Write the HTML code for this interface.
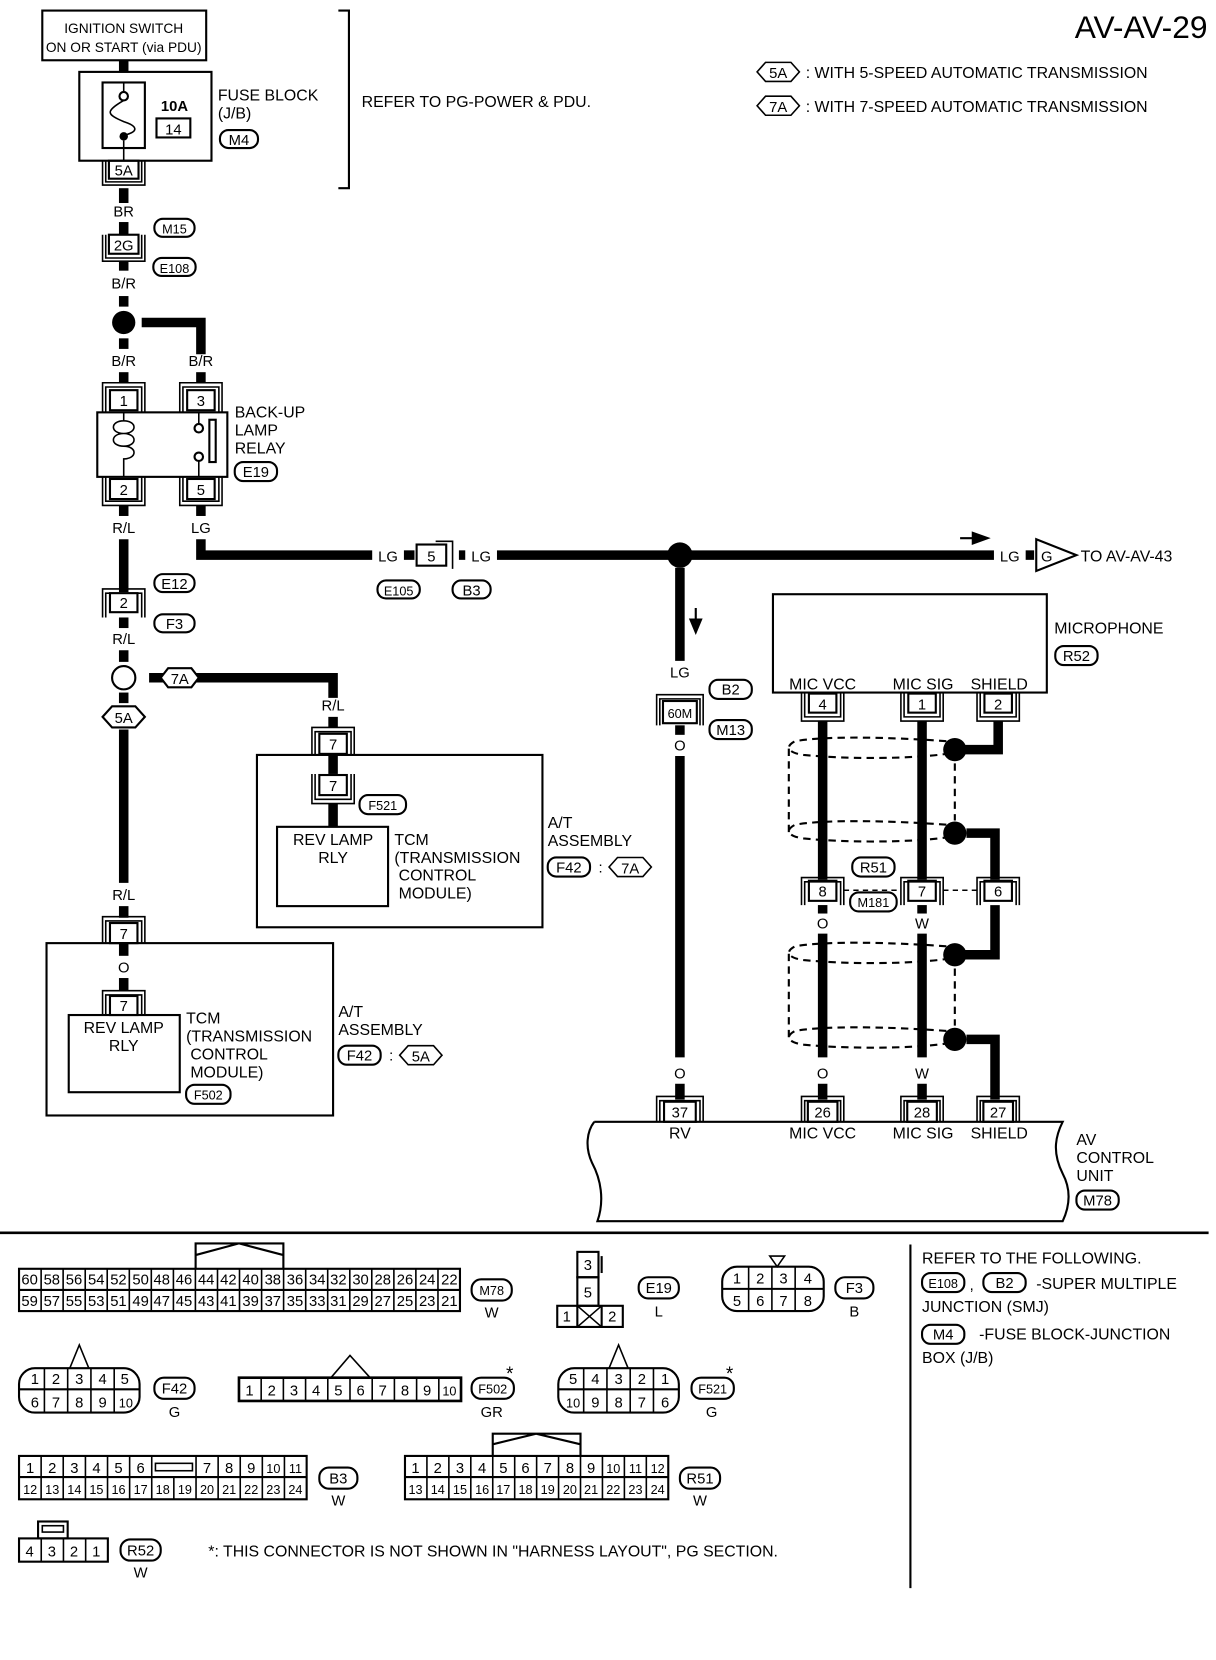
<!DOCTYPE html>
<html><head><meta charset="utf-8"><style>
html,body{margin:0;padding:0;background:#fff}
svg{display:block}
text{font-family:"Liberation Sans",Arial,sans-serif;font-size:14px;fill:#000}
.c{text-anchor:middle}
.w{stroke:#000;stroke-width:9;fill:none}
.l{stroke:#000;stroke-width:2;fill:none}
.t{stroke:#000;stroke-width:1.5;fill:none}
.d{stroke:#000;stroke-width:2;fill:none;stroke-dasharray:7 5}
.o{stroke:#000;stroke-width:2;fill:#fff}
.s{font-size:12px}
</style></head><body>
<svg width="1216" height="1660" viewBox="0 0 1150 1570" preserveAspectRatio="none" xmlns="http://www.w3.org/2000/svg">
<rect width="1150" height="1570" fill="#fff"/>
<!-- header -->
<text x="1142" y="36" style="font-size:30px" text-anchor="end">AV-AV-29</text>
<path class="t" d="M716,68 l8,-9 h24 l8,9 l-8,9 h-24 z"/><text x="736" y="74" class="c">5A</text>
<text x="762" y="74" style="font-size:15px">: WITH 5-SPEED AUTOMATIC TRANSMISSION</text>
<path class="t" d="M716,100 l8,-9 h24 l8,9 l-8,9 h-24 z"/><text x="736" y="106" class="c">7A</text>
<text x="762" y="106" style="font-size:15px">: WITH 7-SPEED AUTOMATIC TRANSMISSION</text>

<!-- ignition -->
<rect x="40" y="10" width="155" height="47" class="l"/>
<text x="117" y="31" class="c" style="font-size:13px">IGNITION SWITCH</text>
<text x="117" y="49" class="c" style="font-size:13px">ON OR START (via PDU)</text>
<line x1="117" y1="57" x2="117" y2="68" class="w"/>
<rect x="75" y="68" width="125" height="84" class="l"/>
<rect x="97" y="78" width="40" height="62" class="l"/>
<line x1="117" y1="78" x2="117" y2="88" class="t"/>
<circle cx="117" cy="91" r="4" class="o"/>
<path class="t" d="M117,95 C100,105 100,108 117,115 C132,120 130,125 117,128"/>
<circle cx="117" cy="129" r="4"/>
<line x1="117" y1="133" x2="117" y2="152" class="t"/>
<text x="165" y="105" class="c" style="font-weight:bold">10A</text>
<rect x="148" y="112" width="32" height="18" class="l"/><text x="164" y="127" class="c">14</text>
<text x="206" y="95" style="font-size:15px">FUSE BLOCK</text>
<text x="206" y="112" style="font-size:15px">(J/B)</text>
<rect x="208" y="123" width="36" height="17" rx="8" class="l"/><text x="226" y="137" class="c">M4</text>
<!-- 5A conn -->
<rect x="103" y="152" width="28" height="17" class="l"/><text x="117" y="166" class="c">5A</text>
<path class="t" d="M97,152 V175 H137 V152"/><path class="t" d="M100,152 V172 H134 V152"/>
<!-- bracket -->
<path class="l" d="M320,10 H330 V178 H320"/>
<text x="342" y="101" style="font-size:15px">REFER TO PG-POWER &amp; PDU.</text>

<line x1="117" y1="178" x2="117" y2="192" class="w"/>
<text x="117" y="205" class="c">BR</text>
<line x1="117" y1="210" x2="117" y2="222" class="w"/>
<rect x="103" y="222" width="28" height="18" class="l"/><text x="117" y="237" class="c">2G</text>
<path class="t" d="M97,222 V247 H137 V222"/><path class="t" d="M100,222 V244 H134 V222"/>
<line x1="117" y1="247" x2="117" y2="256" class="w"/>
<rect x="146" y="207" width="38" height="17" rx="8" class="l"/><text x="165" y="221" class="c s">M15</text>
<rect x="145" y="244" width="40" height="17" rx="8" class="l"/><text x="165" y="258" class="c s">E108</text>
<text x="117" y="273" class="c">B/R</text>
<line x1="117" y1="280" x2="117" y2="290" class="w"/>
<circle cx="117" cy="305" r="11"/>
<path class="w" d="M134,305 H190 V335"/>
<line x1="117" y1="320" x2="117" y2="330" class="w"/>
<text x="117" y="346" class="c">B/R</text><text x="190" y="346" class="c">B/R</text>
<line x1="117" y1="352" x2="117" y2="362" class="w"/><line x1="190" y1="352" x2="190" y2="362" class="w"/>
<!-- relay -->
<path class="t" d="M97,390 V362 H137 V390"/><path class="t" d="M100,390 V366 H134 V390"/>
<rect x="104" y="369" width="26" height="19" class="l"/><text x="117" y="384" class="c">1</text>
<path class="t" d="M170,390 V362 H210 V390"/><path class="t" d="M173,390 V366 H207 V390"/>
<rect x="177" y="369" width="26" height="19" class="l"/><text x="190" y="384" class="c">3</text>
<rect x="92" y="390" width="123" height="61" class="l"/>
<path class="t" d="M117,390 V398 C130,398 130,410 117,410 C104,410 104,398 117,398 M117,410 C130,410 130,422 117,422 C104,422 104,410 117,410 M117,422 C130,422 130,434 117,434 V451"/>
<path class="t" d="M188,390 V401 M188,435 V451"/>
<circle cx="188" cy="405" r="4" class="o"/><circle cx="188" cy="432" r="4" class="o"/>
<rect x="198" y="397" width="6" height="40" class="l"/>
<text x="222" y="395" style="font-size:15px">BACK-UP</text>
<text x="222" y="412" style="font-size:15px">LAMP</text>
<text x="222" y="429" style="font-size:15px">RELAY</text>
<rect x="222" y="437" width="40" height="18" rx="8" class="l"/><text x="242" y="451" class="c">E19</text>
<path class="t" d="M97,451 V478 H137 V451"/><path class="t" d="M100,451 V474 H134 V451"/>
<rect x="104" y="453" width="26" height="19" class="l"/><text x="117" y="468" class="c">2</text>
<path class="t" d="M170,451 V478 H210 V451"/><path class="t" d="M173,451 V474 H207 V451"/>
<rect x="177" y="453" width="26" height="19" class="l"/><text x="190" y="468" class="c">5</text>
<line x1="117" y1="478" x2="117" y2="488" class="w"/><line x1="190" y1="478" x2="190" y2="488" class="w"/>
<text x="117" y="504" class="c">R/L</text><text x="190" y="504" class="c">LG</text>
<!-- LG main -->
<path class="w" d="M190,510 V525 H352"/>
<text x="367" y="531" class="c">LG</text>
<line x1="382" y1="525" x2="392" y2="525" class="w"/>
<rect x="394" y="515" width="28" height="20" class="l"/><text x="408" y="531" class="c">5</text>
<path class="t" d="M412,512 H428 V538"/>
<line x1="434" y1="525" x2="440" y2="525" class="w"/>
<text x="455" y="531" class="c">LG</text>
<line x1="470" y1="525" x2="940" y2="525" class="w"/>
<circle cx="643" cy="525" r="12"/>
<path d="M908,509 H920 V504 L934,509 L920,514 V509" stroke="#000" stroke-width="2" fill="#000"/>
<text x="955" y="531" class="c">LG</text>
<line x1="970" y1="525" x2="978" y2="525" class="w"/>
<path class="l" d="M980,510 L1018,525 L980,540 Z"/>
<text x="990" y="531" class="c">G</text>
<text x="1022" y="531" style="font-size:15px">TO AV-AV-43</text>
<rect x="357" y="549" width="40" height="17" rx="8" class="l"/><text x="377" y="563" class="c s">E105</text>
<rect x="428" y="549" width="36" height="17" rx="8" class="l"/><text x="446" y="563" class="c">B3</text>
<!-- left R/L -->
<line x1="117" y1="510" x2="117" y2="560" class="w"/>
<path class="t" d="M97,584 V557 H137 V584"/><path class="t" d="M100,584 V561 H134 V584"/>
<rect x="104" y="561" width="26" height="18" class="l"/><text x="117" y="575" class="c">2</text>
<rect x="146" y="543" width="38" height="17" rx="8" class="l"/><text x="165" y="557" class="c">E12</text>
<rect x="146" y="581" width="38" height="17" rx="8" class="l"/><text x="165" y="595" class="c">F3</text>
<line x1="117" y1="584" x2="117" y2="594" class="w"/>
<text x="117" y="609" class="c">R/L</text>
<line x1="117" y1="615" x2="117" y2="626" class="w"/>
<circle cx="117" cy="641" r="11" class="o"/>
<path class="w" d="M141,641 H315 V660"/>
<path class="o" d="M152,641 l7,-9 h22 l7,9 l-7,9 h-22 z"/><text x="170" y="647" class="c">7A</text>
<text x="315" y="672" class="c">R/L</text>
<line x1="117" y1="655" x2="117" y2="665" class="w"/>
<path class="o" d="M97,678 l9,-10 h22 l9,10 l-9,10 h-22 z"/><text x="117" y="684" class="c">5A</text>
<line x1="117" y1="690" x2="117" y2="835" class="w"/>
<!-- 7A TCM -->
<line x1="315" y1="678" x2="315" y2="688" class="w"/>
<path class="t" d="M295,714 V688 H335 V714"/><path class="t" d="M298,714 V692 H332 V714"/>
<rect x="302" y="694" width="26" height="19" class="l"/><text x="315" y="709" class="c">7</text>
<rect x="243" y="714" width="270" height="163" class="l"/>
<line x1="315" y1="714" x2="315" y2="732" class="w"/>
<path class="t" d="M295,732 V760 H335 V732"/><path class="t" d="M298,732 V756 H332 V732"/>
<rect x="302" y="733" width="26" height="19" class="l"/><text x="315" y="748" class="c">7</text>
<line x1="315" y1="760" x2="315" y2="782" class="w"/>
<rect x="340" y="752" width="44" height="18" rx="8" class="l"/><text x="362" y="766" class="c s">F521</text>
<rect x="262" y="782" width="105" height="75" class="l"/>
<text x="315" y="799" class="c" style="font-size:15px">REV LAMP</text>
<text x="315" y="816" class="c" style="font-size:15px">RLY</text>
<text x="373" y="799" style="font-size:15px">TCM</text>
<text x="373" y="816" style="font-size:15px">(TRANSMISSION</text>
<text x="377" y="833" style="font-size:15px">CONTROL</text>
<text x="377" y="850" style="font-size:15px">MODULE)</text>
<text x="518" y="783" style="font-size:15px">A/T</text>
<text x="518" y="800" style="font-size:15px">ASSEMBLY</text>
<rect x="518" y="811" width="40" height="18" rx="8" class="l"/><text x="538" y="825" class="c">F42</text>
<text x="566" y="825">:</text>
<path class="t" d="M576,820 l8,-9 h24 l8,9 l-8,9 h-24 z"/><text x="596" y="826" class="c">7A</text>
<!-- 5A TCM -->
<text x="117" y="851" class="c">R/L</text>
<line x1="117" y1="857" x2="117" y2="868" class="w"/>
<path class="t" d="M97,892 V867 H137 V892"/><path class="t" d="M100,892 V871 H134 V892"/>
<rect x="104" y="873" width="26" height="19" class="l"/><text x="117" y="888" class="c">7</text>
<rect x="44" y="892" width="271" height="163" class="l"/>
<line x1="117" y1="892" x2="117" y2="904" class="w"/>
<text x="117" y="920" class="c">O</text>
<line x1="117" y1="925" x2="117" y2="937" class="w"/>
<path class="t" d="M97,960 V937 H137 V960"/><path class="t" d="M100,960 V941 H134 V960"/>
<rect x="104" y="942" width="26" height="18" class="l"/><text x="117" y="956" class="c">7</text>
<rect x="65" y="960" width="105" height="73" class="l"/>
<text x="117" y="977" class="c" style="font-size:15px">REV LAMP</text>
<text x="117" y="994" class="c" style="font-size:15px">RLY</text>
<text x="176" y="968" style="font-size:15px">TCM</text>
<text x="176" y="985" style="font-size:15px">(TRANSMISSION</text>
<text x="180" y="1002" style="font-size:15px">CONTROL</text>
<text x="180" y="1019" style="font-size:15px">MODULE)</text>
<rect x="176" y="1026" width="42" height="18" rx="8" class="l"/><text x="197" y="1040" class="c s">F502</text>
<text x="320" y="962" style="font-size:15px">A/T</text>
<text x="320" y="979" style="font-size:15px">ASSEMBLY</text>
<rect x="320" y="989" width="40" height="18" rx="8" class="l"/><text x="340" y="1003" class="c">F42</text>
<text x="368" y="1003">:</text>
<path class="t" d="M378,998 l8,-9 h24 l8,9 l-8,9 h-24 z"/><text x="398" y="1004" class="c">5A</text>
<!-- RV wire -->
<line x1="643" y1="537" x2="643" y2="625" class="w"/>
<path d="M658,575 V590 M653,586 L658,598 L663,586 Z" stroke="#000" stroke-width="2" fill="#000"/>
<text x="643" y="641" class="c">LG</text>
<rect x="671" y="643" width="40" height="18" rx="8" class="l"/><text x="691" y="657" class="c">B2</text>
<path class="t" d="M621,686 V657 H665 V686"/><path class="t" d="M624,686 V661 H662 V686"/>
<rect x="627" y="663" width="32" height="21" class="l"/><text x="643" y="679" class="c s">60M</text>
<rect x="671" y="681" width="40" height="18" rx="8" class="l"/><text x="691" y="695" class="c">M13</text>
<line x1="643" y1="686" x2="643" y2="695" class="w"/>
<text x="643" y="710" class="c">O</text>
<line x1="643" y1="715" x2="643" y2="1000" class="w"/>
<text x="643" y="1020" class="c">O</text>
<line x1="643" y1="1025" x2="643" y2="1040" class="w"/>
<!-- microphone -->
<rect x="731" y="562" width="259" height="93" class="l"/>
<text x="997" y="599" style="font-size:15px">MICROPHONE</text>
<rect x="998" y="611" width="40" height="18" rx="8" class="l"/><text x="1018" y="625" class="c">R52</text>
<text x="778" y="652" class="c" style="font-size:15px">MIC VCC</text>
<text x="873" y="652" class="c" style="font-size:15px">MIC SIG</text>
<text x="945" y="652" class="c" style="font-size:15px">SHIELD</text>
<path class="t" d="M758,655 V682 H798 V655"/><path class="t" d="M761,655 V678 H795 V655"/>
<rect x="765" y="656" width="26" height="18" class="l"/><text x="778" y="671" class="c">4</text>
<path class="t" d="M852,655 V682 H892 V655"/><path class="t" d="M855,655 V678 H889 V655"/>
<rect x="859" y="656" width="26" height="18" class="l"/><text x="872" y="671" class="c">1</text>
<path class="t" d="M924,655 V682 H964 V655"/><path class="t" d="M927,655 V678 H961 V655"/>
<rect x="931" y="656" width="26" height="18" class="l"/><text x="944" y="671" class="c">2</text>
<line x1="778" y1="682" x2="778" y2="832" class="w"/>
<line x1="872" y1="682" x2="872" y2="832" class="w"/>
<path class="w" d="M944,682 V709 H912"/>
<circle cx="903" cy="709" r="11"/>
<circle cx="903" cy="788" r="11"/>
<path class="w" d="M914,788 H941 V832"/>
<path class="d" d="M895,701 C840,697 780,696 752,701 C742,706 745,712 760,714 C800,718 860,718 895,713"/>
<path class="d" d="M895,780 C840,776 780,775 752,780 C742,785 745,791 760,793 C800,797 860,797 895,792"/>
<line x1="746" y1="708" x2="746" y2="787" class="d"/>
<line x1="903" y1="722" x2="903" y2="776" class="d"/>
<!-- mid conns -->
<path class="t" d="M758,856 V830 H798 V856"/><path class="t" d="M761,856 V834 H795 V856"/>
<rect x="765" y="833" width="26" height="19" class="l"/><text x="778" y="848" class="c">8</text>
<path class="t" d="M852,856 V830 H892 V856"/><path class="t" d="M855,856 V834 H889 V856"/>
<rect x="859" y="833" width="26" height="19" class="l"/><text x="872" y="848" class="c">7</text>
<path class="t" d="M924,856 V830 H964 V856"/><path class="t" d="M927,856 V834 H961 V856"/>
<rect x="931" y="833" width="26" height="19" class="l"/><text x="944" y="848" class="c">6</text>
<line x1="798" y1="842" x2="852" y2="842" class="d" style="stroke-dasharray:5 4;stroke-width:1.5"/>
<line x1="892" y1="842" x2="924" y2="842" class="d" style="stroke-dasharray:5 4;stroke-width:1.5"/>
<rect x="806" y="811" width="40" height="18" rx="8" class="o"/><text x="826" y="825" class="c">R51</text>
<rect x="804" y="844" width="44" height="18" rx="8" class="o"/><text x="826" y="858" class="c s">M181</text>
<line x1="778" y1="856" x2="778" y2="864" class="w"/><line x1="872" y1="856" x2="872" y2="864" class="w"/>
<text x="778" y="878" class="c">O</text><text x="872" y="878" class="c">W</text>
<line x1="778" y1="883" x2="778" y2="1000" class="w"/>
<line x1="872" y1="883" x2="872" y2="1000" class="w"/>
<path class="w" d="M941,856 V903 H912"/>
<circle cx="903" cy="903" r="11"/>
<circle cx="903" cy="983" r="11"/>
<path class="w" d="M914,983 H941 V1040"/>
<path class="d" d="M895,895 C840,891 780,890 752,895 C742,900 745,906 760,908 C800,912 860,912 895,907"/>
<path class="d" d="M895,975 C840,971 780,970 752,975 C742,980 745,986 760,988 C800,992 860,992 895,987"/>
<line x1="746" y1="902" x2="746" y2="982" class="d"/>
<line x1="903" y1="916" x2="903" y2="970" class="d"/>
<text x="778" y="1020" class="c">O</text><text x="872" y="1020" class="c">W</text>
<line x1="778" y1="1025" x2="778" y2="1040" class="w"/><line x1="872" y1="1025" x2="872" y2="1040" class="w"/>
<!-- AV unit -->
<path class="t" d="M621,1061 V1037 H665 V1061"/><path class="t" d="M624,1061 V1041 H662 V1061"/>
<rect x="628" y="1042" width="30" height="19" class="l"/><text x="643" y="1057" class="c">37</text>
<path class="t" d="M758,1061 V1037 H798 V1061"/><path class="t" d="M761,1061 V1041 H795 V1061"/>
<rect x="764" y="1042" width="28" height="19" class="l"/><text x="778" y="1057" class="c">26</text>
<path class="t" d="M852,1061 V1037 H892 V1061"/><path class="t" d="M855,1061 V1041 H889 V1061"/>
<rect x="858" y="1042" width="28" height="19" class="l"/><text x="872" y="1057" class="c">28</text>
<path class="t" d="M924,1061 V1037 H964 V1061"/><path class="t" d="M927,1061 V1041 H961 V1061"/>
<rect x="930" y="1042" width="28" height="19" class="l"/><text x="944" y="1057" class="c">27</text>
<path class="l" d="M562,1061 H1005 C998,1075 995,1090 1005,1110 C1013,1125 1012,1140 1005,1155 H565 C572,1135 568,1115 560,1100 C553,1085 555,1070 562,1061"/>
<text x="643" y="1077" class="c" style="font-size:15px">RV</text>
<text x="778" y="1077" class="c" style="font-size:15px">MIC VCC</text>
<text x="873" y="1077" class="c" style="font-size:15px">MIC SIG</text>
<text x="945" y="1077" class="c" style="font-size:15px">SHIELD</text>
<text x="1018" y="1083" style="font-size:15px">AV</text>
<text x="1018" y="1100" style="font-size:15px">CONTROL</text>
<text x="1018" y="1117" style="font-size:15px">UNIT</text>
<rect x="1018" y="1126" width="40" height="18" rx="8" class="l"/><text x="1038" y="1140" class="c">M78</text>

<!-- separator -->
<line x1="0" y1="1166" x2="1143" y2="1166" class="l" style="stroke-width:2.5"/>
<line x1="861" y1="1177" x2="861" y2="1502" class="l"/>

<!-- M78 connector -->
<path class="l" d="M185,1200 V1176 H268 V1200 M185,1187 L226,1176 L268,1187"/>
<rect x="18" y="1200" width="417" height="40" class="l"/>
<line x1="18" y1="1220" x2="435" y2="1220" class="l"/>
<g class="t">
<path d="M38.9,1200V1240M59.7,1200V1240M80.6,1200V1240M101.4,1200V1240M122.3,1200V1240M143.1,1200V1240M164,1200V1240M184.8,1200V1240M205.7,1200V1240M226.5,1200V1240M247.4,1200V1240M268.2,1200V1240M289.1,1200V1240M309.9,1200V1240M330.8,1200V1240M351.6,1200V1240M372.5,1200V1240M393.3,1200V1240M414.2,1200V1240"/>
</g>
<g class="s" text-anchor="middle">
<text x="28" y="1215">60</text><text x="49" y="1215">58</text><text x="70" y="1215">56</text><text x="91" y="1215">54</text><text x="112" y="1215">52</text><text x="133" y="1215">50</text><text x="153" y="1215">48</text><text x="174" y="1215">46</text><text x="195" y="1215">44</text><text x="216" y="1215">42</text><text x="237" y="1215">40</text><text x="258" y="1215">38</text><text x="279" y="1215">36</text><text x="300" y="1215">34</text><text x="320" y="1215">32</text><text x="341" y="1215">30</text><text x="362" y="1215">28</text><text x="383" y="1215">26</text><text x="404" y="1215">24</text><text x="425" y="1215">22</text>
<text x="28" y="1235">59</text><text x="49" y="1235">57</text><text x="70" y="1235">55</text><text x="91" y="1235">53</text><text x="112" y="1235">51</text><text x="133" y="1235">49</text><text x="153" y="1235">47</text><text x="174" y="1235">45</text><text x="195" y="1235">43</text><text x="216" y="1235">41</text><text x="237" y="1235">39</text><text x="258" y="1235">37</text><text x="279" y="1235">35</text><text x="300" y="1235">33</text><text x="320" y="1235">31</text><text x="341" y="1235">29</text><text x="362" y="1235">27</text><text x="383" y="1235">25</text><text x="404" y="1235">23</text><text x="425" y="1235">21</text>
</g>
<rect x="446" y="1210" width="38" height="20" rx="9" class="l"/><text x="465" y="1225" class="c s">M78</text>
<text x="465" y="1246" class="c">W</text>
<!-- E19 -->
<rect x="546" y="1184" width="20" height="24" class="l"/><text x="556" y="1201" class="c">3</text>
<line x1="569" y1="1188" x2="569" y2="1204" class="l"/>
<rect x="546" y="1208" width="20" height="27" class="l"/><text x="556" y="1227" class="c">5</text>
<rect x="527" y="1235" width="62" height="20" class="l"/>
<line x1="546" y1="1235" x2="546" y2="1255" class="l"/><line x1="569" y1="1235" x2="569" y2="1255" class="l"/>
<path class="t" d="M546,1235 L569,1255 M569,1235 L546,1255"/>
<text x="536" y="1250" class="c">1</text><text x="579" y="1250" class="c">2</text>
<rect x="604" y="1208" width="38" height="20" rx="9" class="l"/><text x="623" y="1223" class="c">E19</text>
<text x="623" y="1245" class="c">L</text>
<!-- F3 -->
<rect x="683" y="1198" width="96" height="42" rx="14" class="l"/>
<line x1="683" y1="1219" x2="779" y2="1219" class="l"/>
<path class="t" d="M708,1198V1240M730,1198V1240M752,1198V1240"/>
<path class="t" d="M728,1188 H742 L735,1198 Z"/>
<text x="697" y="1214" class="c">1</text><text x="719" y="1214" class="c">2</text><text x="741" y="1214" class="c">3</text><text x="764" y="1214" class="c">4</text>
<text x="697" y="1235" class="c">5</text><text x="719" y="1235" class="c">6</text><text x="741" y="1235" class="c">7</text><text x="764" y="1235" class="c">8</text>
<rect x="790" y="1208" width="36" height="20" rx="9" class="l"/><text x="808" y="1223" class="c">F3</text>
<text x="808" y="1245" class="c">B</text>
<!-- legend right -->
<text x="872" y="1195" style="font-size:15px">REFER TO THE FOLLOWING.</text>
<rect x="872" y="1204" width="40" height="18" rx="8" class="l"/><text x="892" y="1218" class="c s">E108</text>
<text x="917" y="1220">,</text>
<rect x="930" y="1204" width="40" height="18" rx="8" class="l"/><text x="950" y="1218" class="c">B2</text>
<text x="980" y="1219" style="font-size:15px">-SUPER MULTIPLE</text>
<text x="872" y="1241" style="font-size:15px">JUNCTION (SMJ)</text>
<rect x="872" y="1253" width="40" height="18" rx="8" class="l"/><text x="892" y="1267" class="c">M4</text>
<text x="926" y="1267" style="font-size:15px">-FUSE BLOCK-JUNCTION</text>
<text x="872" y="1289" style="font-size:15px">BOX (J/B)</text>
<!-- F42 -->
<path class="t" d="M66,1294 L75,1272 L84,1294"/>
<rect x="18" y="1294" width="114" height="42" rx="15" class="l"/>
<line x1="18" y1="1314" x2="132" y2="1314" class="l"/>
<path class="t" d="M42,1294V1336M64,1294V1336M86,1294V1336M108,1294V1336"/>
<text x="33" y="1309" class="c">1</text><text x="53" y="1309" class="c">2</text><text x="75" y="1309" class="c">3</text><text x="97" y="1309" class="c">4</text><text x="118" y="1309" class="c">5</text>
<text x="33" y="1331" class="c">6</text><text x="53" y="1331" class="c">7</text><text x="75" y="1331" class="c">8</text><text x="97" y="1331" class="c">9</text><text x="119" y="1331" class="c s">10</text>
<rect x="146" y="1303" width="38" height="20" rx="9" class="l"/><text x="165" y="1318" class="c">F42</text>
<text x="165" y="1340" class="c">G</text>
<!-- F502 -->
<path class="t" d="M313,1303 L331,1282 L350,1303"/>
<rect x="226" y="1303" width="210" height="22" class="l" style="stroke-width:2.5"/>
<path class="t" d="M247,1303V1325M268,1303V1325M289,1303V1325M310,1303V1325M331,1303V1325M352,1303V1325M373,1303V1325M394,1303V1325M415,1303V1325"/>
<text x="236" y="1320" class="c">1</text><text x="257" y="1320" class="c">2</text><text x="278" y="1320" class="c">3</text><text x="299" y="1320" class="c">4</text><text x="320" y="1320" class="c">5</text><text x="341" y="1320" class="c">6</text><text x="362" y="1320" class="c">7</text><text x="383" y="1320" class="c">8</text><text x="404" y="1320" class="c">9</text><text x="425" y="1320" class="c s">10</text>
<rect x="446" y="1303" width="40" height="20" rx="9" class="l"/><text x="466" y="1318" class="c s">F502</text>
<text x="482" y="1305" class="c" style="font-size:18px">*</text>
<text x="465" y="1340" class="c">GR</text>
<!-- F521 -->
<path class="t" d="M576,1294 L585,1272 L594,1294"/>
<rect x="528" y="1294" width="114" height="42" rx="15" class="l"/>
<line x1="528" y1="1314" x2="642" y2="1314" class="l"/>
<path class="t" d="M552,1294V1336M574,1294V1336M596,1294V1336M618,1294V1336"/>
<text x="542" y="1309" class="c">5</text><text x="563" y="1309" class="c">4</text><text x="585" y="1309" class="c">3</text><text x="607" y="1309" class="c">2</text><text x="629" y="1309" class="c">1</text>
<text x="542" y="1331" class="c s">10</text><text x="563" y="1331" class="c">9</text><text x="585" y="1331" class="c">8</text><text x="607" y="1331" class="c">7</text><text x="629" y="1331" class="c">6</text>
<rect x="654" y="1303" width="40" height="20" rx="9" class="l"/><text x="674" y="1318" class="c s">F521</text>
<text x="690" y="1305" class="c" style="font-size:18px">*</text>
<text x="673" y="1340" class="c">G</text>
<!-- B3 -->
<rect x="18" y="1377" width="272" height="41" class="l"/>
<line x1="18" y1="1397" x2="290" y2="1397" class="l"/>
<path class="t" d="M38.9,1377V1418M59.8,1377V1418M80.8,1377V1418M101.7,1377V1418M122.6,1377V1418M143.5,1377V1418M164.4,1397V1418M185.4,1377V1418M206.3,1377V1418M227.2,1377V1418M248.1,1377V1418M269,1377V1418"/>
<rect x="147" y="1384" width="35" height="7" class="t"/>
<g text-anchor="middle">
<text x="28.5" y="1393">1</text><text x="49.4" y="1393">2</text><text x="70.3" y="1393">3</text><text x="91.2" y="1393">4</text><text x="112.1" y="1393">5</text><text x="133" y="1393">6</text><text x="195.8" y="1393">7</text><text x="216.7" y="1393">8</text><text x="237.6" y="1393">9</text><text x="258.5" y="1393" class="s">10</text><text x="279.4" y="1393" class="s">11</text>
<text x="28.5" y="1413" class="s">12</text><text x="49.4" y="1413" class="s">13</text><text x="70.3" y="1413" class="s">14</text><text x="91.2" y="1413" class="s">15</text><text x="112.1" y="1413" class="s">16</text><text x="133" y="1413" class="s">17</text><text x="153.9" y="1413" class="s">18</text><text x="174.9" y="1413" class="s">19</text><text x="195.8" y="1413" class="s">20</text><text x="216.7" y="1413" class="s">21</text><text x="237.6" y="1413" class="s">22</text><text x="258.5" y="1413" class="s">23</text><text x="279.4" y="1413" class="s">24</text>
</g>
<rect x="302" y="1388" width="36" height="20" rx="9" class="l"/><text x="320" y="1403" class="c">B3</text>
<text x="320" y="1424" class="c">W</text>
<!-- R51 -->
<path class="l" d="M466,1377 V1356 H549 V1377 M466,1366 L507,1356 L549,1366"/>
<rect x="383" y="1377" width="249" height="41" class="l"/>
<line x1="383" y1="1397" x2="632" y2="1397" class="l"/>
<path class="t" d="M403.75,1377V1418M424.5,1377V1418M445.25,1377V1418M466,1377V1418M486.75,1377V1418M507.5,1377V1418M528.25,1377V1418M549,1377V1418M569.75,1377V1418M590.5,1377V1418M611.25,1377V1418"/>
<g text-anchor="middle">
<text x="393" y="1393">1</text><text x="414" y="1393">2</text><text x="435" y="1393">3</text><text x="456" y="1393">4</text><text x="476" y="1393">5</text><text x="497" y="1393">6</text><text x="518" y="1393">7</text><text x="539" y="1393">8</text><text x="559" y="1393">9</text><text x="580" y="1393" class="s">10</text><text x="601" y="1393" class="s">11</text><text x="622" y="1393" class="s">12</text>
<text x="393" y="1413" class="s">13</text><text x="414" y="1413" class="s">14</text><text x="435" y="1413" class="s">15</text><text x="456" y="1413" class="s">16</text><text x="476" y="1413" class="s">17</text><text x="497" y="1413" class="s">18</text><text x="518" y="1413" class="s">19</text><text x="539" y="1413" class="s">20</text><text x="559" y="1413" class="s">21</text><text x="580" y="1413" class="s">22</text><text x="601" y="1413" class="s">23</text><text x="622" y="1413" class="s">24</text>
</g>
<rect x="643" y="1388" width="38" height="20" rx="9" class="l"/><text x="662" y="1403" class="c">R51</text>
<text x="662" y="1424" class="c">W</text>
<!-- R52 -->
<rect x="36" y="1439" width="28" height="16" class="l"/>
<rect x="40" y="1443" width="20" height="6" class="t"/>
<rect x="18" y="1455" width="84" height="22" class="l"/>
<path class="t" d="M39,1455V1477M60,1455V1477M81,1455V1477"/>
<text x="28" y="1472" class="c">4</text><text x="49" y="1472" class="c">3</text><text x="70" y="1472" class="c">2</text><text x="91" y="1472" class="c">1</text>
<rect x="114" y="1456" width="38" height="20" rx="9" class="l"/><text x="133" y="1471" class="c">R52</text>
<text x="133" y="1492" class="c">W</text>
<text x="197" y="1472" style="font-size:15px">*: THIS CONNECTOR IS NOT SHOWN IN "HARNESS LAYOUT", PG SECTION.</text>
</svg>
</body></html>
